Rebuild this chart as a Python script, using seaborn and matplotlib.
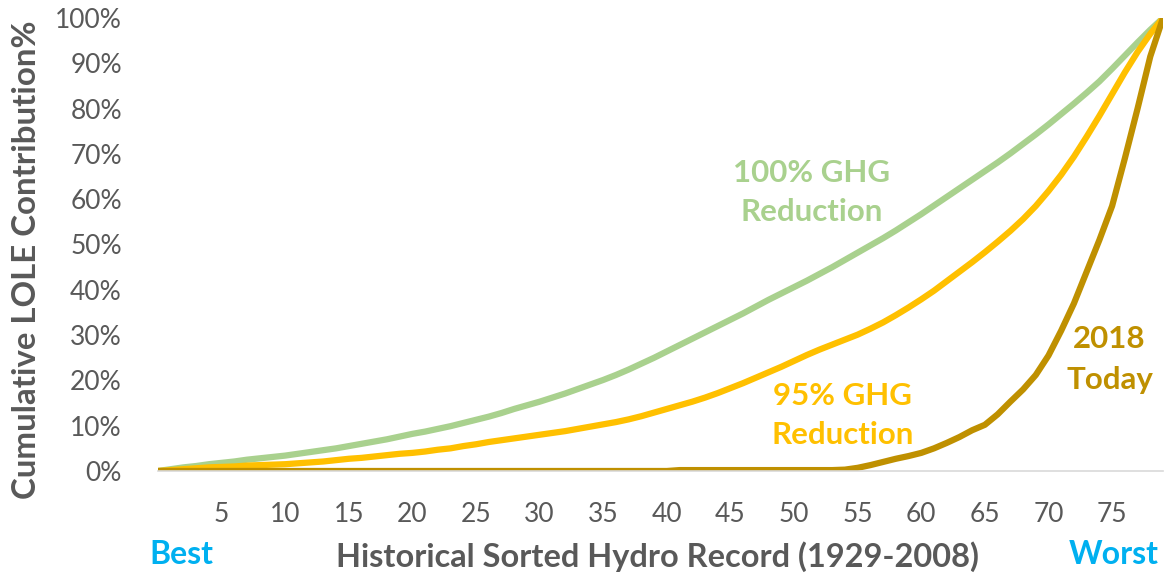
import pandas as pd
import matplotlib
matplotlib.use("Agg")
import matplotlib.pyplot as plt
import seaborn as sns

# sorted hydro years 0..79 (1929-2008, best -> worst)
years_sorted = list(range(80))

ghg100 = [0, 0.4, 0.8, 1.1, 1.5, 1.8, 2.1, 2.5, 2.8, 3.1,
          3.4, 3.8, 4.2, 4.6, 5.0, 5.5, 6.0, 6.5, 7.0, 7.6,
          8.2, 8.7, 9.3, 9.9, 10.6, 11.3, 12.0, 12.8, 13.7, 14.5,
          15.3, 16.2, 17.1, 18.1, 19.1, 20.1, 21.2, 22.4, 23.7, 25.0,
          26.4, 27.8, 29.2, 30.6, 32.0, 33.4, 34.8, 36.3, 37.8, 39.2,
          40.6, 42.0, 43.5, 45.0, 46.6, 48.2, 49.8, 51.4, 53.1, 54.9,
          56.7, 58.6, 60.5, 62.4, 64.3, 66.2, 68.1, 70.1, 72.2, 74.3,
          76.5, 78.8, 81.1, 83.5, 86.0, 88.8, 91.7, 94.6, 97.4, 100]

ghg95 = [0, 0.2, 0.4, 0.6, 0.8, 0.9, 1.0, 1.2, 1.3, 1.4,
         1.5, 1.7, 1.9, 2.1, 2.4, 2.7, 2.9, 3.2, 3.5, 3.8,
         4.0, 4.3, 4.7, 5.0, 5.5, 5.9, 6.4, 6.8, 7.2, 7.6,
         8.0, 8.4, 8.8, 9.3, 9.8, 10.3, 10.8, 11.4, 12.1, 12.9,
         13.7, 14.5, 15.3, 16.2, 17.2, 18.3, 19.4, 20.6, 21.8, 23.0,
         24.3, 25.6, 26.8, 27.9, 29.0, 30.1, 31.4, 32.8, 34.4, 36.1,
         37.9, 39.8, 41.9, 44.0, 46.1, 48.3, 50.6, 53.0, 55.6, 58.5,
         61.8, 65.4, 69.4, 73.8, 78.4, 83.2, 88.0, 92.5, 96.5, 100]

today2018 = [0] * 41 + [0.2] * 13 + [
    0.3, 0.7, 1.3, 2.0, 2.7, 3.3, 4.0, 5.0, 6.2, 7.5,
    9.0, 10.2, 12.5, 15.3, 18.0, 21.2, 25.5, 31.0, 37.0, 44.0,
    51.0, 58.5, 69.0, 80.0, 91.5, 100]

x_ticks = list(range(5, 80, 5))
y_ticks = list(range(0, 101, 10))

GREEN = "#A9D18E"
YELLOW = "#FFC000"
DARK = "#BF9000"
GREY = "#595959"
BLUE = "#00B0F0"

sns.set_theme(style="white")
plt.rcParams["font.family"] = ["Lato", "DejaVu Sans"]

fig = plt.figure(figsize=(11.67, 5.77), dpi=100)
ax = fig.add_axes([158 / 1167, 1 - 471 / 577, 1005 / 1167, 453 / 577])

df = pd.DataFrame({"x": years_sorted, "g100": ghg100, "g95": ghg95, "t2018": today2018})
sns.lineplot(data=df, x="x", y="g100", color=GREEN, linewidth=4.5, ax=ax)
sns.lineplot(data=df, x="x", y="g95", color=YELLOW, linewidth=4.5, ax=ax)
sns.lineplot(data=df, x="x", y="t2018", color=DARK, linewidth=4.5, ax=ax)

ax.set_xlim(0, 79)
ax.set_ylim(0, 100)
ax.set_xticks(x_ticks)
ax.set_yticks(y_ticks)
ax.set_yticklabels([f"{v}%" for v in y_ticks])
ax.tick_params(axis="both", length=0, labelsize=19, labelcolor=GREY)
ax.tick_params(axis="x", pad=22)
ax.tick_params(axis="y", pad=26)
ax.set_xlabel("")
ax.set_ylabel("")
for s in ["top", "right", "left"]:
    ax.spines[s].set_visible(False)
ax.spines["bottom"].set_color("#D9D9D9")
ax.spines["bottom"].set_linewidth(1.2)
ax.patch.set_alpha(0)

# annotations next to the curves
ax.text(51.4, 61.5, "100% GHG\nReduction", color=GREEN, fontsize=22.5, fontweight="bold",
        ha="center", va="center", linespacing=1.5)
ax.text(53.8, 12.3, "95% GHG\nReduction", color=YELLOW, fontsize=22.5, fontweight="bold",
        ha="center", va="center", linespacing=1.5)
ax.text(74.8, 24.6, "2018\nToday", color=DARK, fontsize=22.5, fontweight="bold",
        ha="center", va="center", linespacing=1.55)

fig.text(657 / 1167, 1 - 557 / 577, "Historical Sorted Hydro Record (1929-2008)",
         color=GREY, fontsize=23.4, fontweight="bold", ha="center", va="center")
fig.text(181 / 1167, 1 - 555 / 577, "Best", color=BLUE, fontsize=23, fontweight="bold",
         ha="center", va="center")
fig.text(1114 / 1167, 1 - 555 / 577, "Worst", color=BLUE, fontsize=23, fontweight="bold",
         ha="center", va="center")
fig.text(27 / 1167, 1 - 260 / 577, "Cumulative LOLE Contribution%", color=GREY, fontsize=23.8,
         fontweight="bold", ha="center", va="center", rotation=90)

fig.savefig("out.png", dpi=100)
